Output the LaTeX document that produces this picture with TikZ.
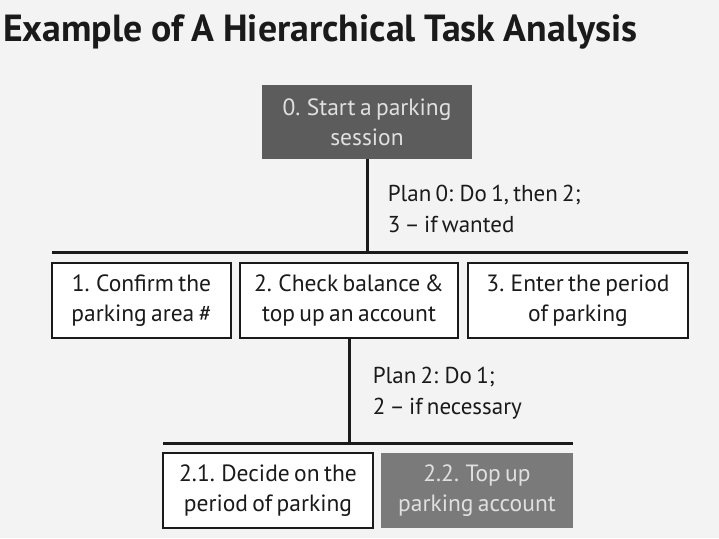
\documentclass[tikz,border=0pt]{standalone}
\usepackage{fontspec}
\setmainfont{PT Sans}[WordSpace=0.7]
\newfontfamily\headfont{PT Sans}[WordSpace=0.9]
\usetikzlibrary{positioning}
\definecolor{bg}{HTML}{F3F3F3}
\definecolor{ink}{HTML}{1A1A1A}
\definecolor{shade}{HTML}{5C5C5C}
\definecolor{lightshade}{HTML}{7A7A7A}

\begin{document}
\begin{tikzpicture}[x=1pt, y=1pt, node distance=9pt,
  task/.style={draw=ink, line width=2pt, fill=white, minimum height=75pt, inner sep=0pt, outer sep=0pt, align=center, font=\fontsize{23.5}{30}\selectfont, text=ink},
  dark/.style={task, draw=none, fill=shade, text=white!88!black},
  plan/.style={anchor=west, align=left, font=\fontsize{23}{31}\selectfont, text=ink},
  bar/.style={line width=3pt, draw=ink}]
  \fill[bg] (0,0) rectangle (719,538);
  \useasboundingbox (0,0) rectangle (719,538);
  \node[anchor=base west, inner sep=0pt, font=\headfont\fontsize{37.8}{40}\selectfont\bfseries, text=ink] (title) at (3,496) {Example of A Hierarchical Task Analysis};
  % top level
  \node[dark, minimum width=210pt, minimum height=74pt] (t0) at (367,416) {0. Start a parking\\session};
  \node[task, minimum width=218pt] (t2) at (349,237.5) {2. Check balance \&\\top up an account};
  \node[task, minimum width=179pt, left=9pt of t2] (t1) {1. Confirm the\\parking area \#};
  \node[task, minimum width=220pt, right=10pt of t2] (t3) {3. Enter the period\\of parking};
  \coordinate[above=10pt of t2.north] (b0);
  \draw[bar] (t0.south) -- (t0.south |- b0) node[midway, plan, xshift=16pt, yshift=-3pt] {Plan 0: Do 1, then 2;\\3 -- if wanted};
  \draw[bar] (t1.north west |- b0) -- (t3.north east |- b0);
  % sub tasks of 2
  \node[task, minimum width=210pt] (t21) at (268,47.5) {2.1. Decide on the\\period of parking};
  \node[dark, fill=lightshade, minimum width=192pt, right=8pt of t21] (t22) {2.2. Top up\\parking account};
  \coordinate[above=10pt of t21.north] (b2);
  \draw[bar] (t2.south) -- (t2.south |- b2) node[midway, plan, xshift=19pt, yshift=-3pt] {Plan 2: Do 1;\\2 -- if necessary};
  \draw[bar] (t21.north west |- b2) -- (t22.north east |- b2);
\end{tikzpicture}
\end{document}
